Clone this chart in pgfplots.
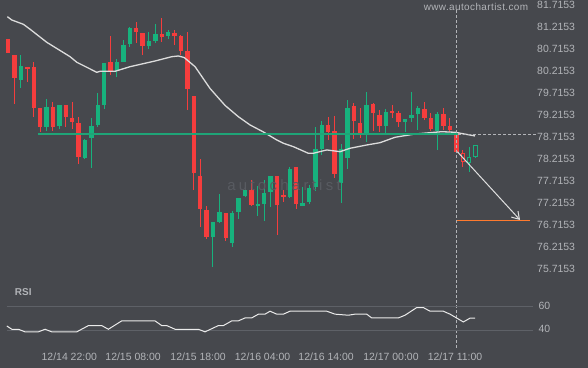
\documentclass[border=0pt]{standalone}
\usepackage{fontspec}
\setmainfont{Liberation Sans}
\newfontfamily\wmfont[LetterSpace=22]{Liberation Sans}
\newfontfamily\urlfont[LetterSpace=4]{Liberation Sans}
\usepackage{pgfplots}
\usepackage{pgfplotstable}
\pgfplotsset{compat=1.18}
\usetikzlibrary{arrows.meta}
\definecolor{bg}{HTML}{46484D}
\definecolor{lbl}{HTML}{B2B4B8}
\definecolor{gridc}{HTML}{5E6167}
\definecolor{cred}{HTML}{F53D3D}
\definecolor{cgreen}{HTML}{17B27D}
\definecolor{sup}{HTML}{1FA477}
\definecolor{maline}{HTML}{DCDCDC}
\definecolor{orng}{HTML}{FF7A2E}
\definecolor{wm}{HTML}{585B61}

\pgfplotstableread{
k hi lo top bot
0 80.981 80.663 80.981 80.663
1 80.618 79.504 80.618 80.102
3 80.345 80.004 80.345 80.299
4 80.458 79.209 80.345 79.413
5 79.413 78.868 79.413 78.981
7 79.549 78.890 79.436 78.981
9 79.481 78.981 79.481 79.209
10 79.549 78.936 79.186 79.095
11 79.209 78.140 79.072 78.299
16 81.049 80.163 80.458 80.254
20 81.368 80.890 81.231 81.140
21 81.118 80.618 81.118 80.822
24 81.459 80.913 81.095 81.027
26 81.186 80.845 81.118 81.049
27 81.072 80.618 81.049 80.709
28 81.140 79.368 80.709 79.845
29 79.686 77.549 79.686 77.936
30 78.254 76.709 77.868 77.118
31 77.186 76.436 77.095 76.481
34 77.027 76.390 77.027 76.459
38 77.777 77.186 77.549 77.209
42 77.868 76.527 77.868 77.209
43 77.549 77.277 77.436 77.413
45 78.072 77.118 78.072 77.231
50 79.209 78.686 79.027 78.868
51 79.231 77.822 78.890 77.913
54 79.527 78.709 79.459 79.118
55 79.413 78.731 79.072 78.845
57 79.527 78.890 79.504 79.299
58 79.368 78.868 79.254 79.004
60 79.481 79.186 79.345 79.299
61 79.345 78.981 79.299 79.095
65 79.549 79.140 79.390 79.186
66 79.299 78.890 79.186 78.936
68 79.413 78.913 79.277 79.004
69 79.186 78.868 79.004 78.913
70 78.868 78.413 78.868 78.413
}\redtab

\pgfplotstableread{
k hi lo top bot
2 80.618 79.868 80.368 80.049
6 79.618 78.890 79.436 78.981
8 79.481 78.936 79.481 79.004
12 78.709 78.254 78.686 78.277
13 79.186 78.049 79.004 78.731
14 79.754 78.981 79.481 79.027
15 80.436 79.390 80.436 79.481
17 80.527 80.118 80.458 80.254
18 80.959 80.458 80.845 80.458
19 81.254 80.799 81.231 80.868
22 81.140 80.754 80.936 80.822
23 81.322 80.890 81.095 80.936
25 81.186 80.981 81.140 81.049
32 76.822 75.799 76.822 76.481
33 77.459 76.799 77.049 76.822
35 77.072 76.254 77.027 76.345
36 77.368 76.890 77.368 77.049
37 77.618 77.390 77.549 77.413
39 77.640 76.959 77.231 77.186
40 77.777 76.845 77.481 77.231
41 77.868 77.163 77.868 77.504
44 78.072 77.368 78.027 77.390
46 77.618 77.186 77.254 77.186
47 77.663 77.231 77.595 77.277
48 78.981 77.527 78.481 77.618
49 79.118 78.345 79.027 78.481
52 78.595 77.254 78.481 77.709
53 79.595 78.027 79.413 78.277
56 79.777 78.640 79.481 78.845
59 79.390 78.845 79.322 79.004
62 79.163 78.868 79.163 79.095
63 79.777 79.095 79.254 79.186
64 79.459 78.913 79.413 79.277
67 79.322 78.459 79.277 78.890
}\greentab

\pgfplotstableread{
k hi lo top bot itop ibot
71 78.459 78.072 78.390 78.186 78.365 78.211
}\hredtab

\pgfplotstableread{
k hi lo top bot itop ibot
72 78.527 77.959 78.299 78.163 78.274 78.188
73 78.572 78.277 78.572 78.299 78.547 78.324
}\hgreentab

\pgfplotsset{
  wick/.style={draw=none, mark=none, error bars/.cd, y dir=both, y explicit, error mark=none,
    error bar style={line width=1bp, draw=#1, solid}},
  body/.style={draw=none, mark=none, error bars/.cd, y dir=both, y explicit, error mark=none,
    error bar style={line width=4.4bp, draw=#1, solid}},
  inbody/.style={draw=none, mark=none, error bars/.cd, y dir=both, y explicit, error mark=none,
    error bar style={line width=2.4bp, draw=#1, solid}},
}

\begin{document}
\begin{tikzpicture}
\fill[bg] (0bp,0bp) rectangle (588bp,368bp);

\begin{axis}[at={(0bp,83bp)}, anchor=south west, scale only axis,
  width=530bp, height=285bp,
  xmin=-1.249, xmax=81.51, ymin=75.3903, ymax=81.8676,
  axis line style={draw=none}, major tick length=0pt,
  xtick=\empty,
  ytick={75.7153,76.2153,76.7153,77.2153,77.7153,78.2153,78.7153,79.2153,79.7153,80.2153,80.7153,81.2153,81.7153},
  yticklabels={75.7153,76.2153,76.7153,77.2153,77.7153,78.2153,78.7153,79.2153,79.7153,80.2153,80.7153,81.2153,81.7153},
  yticklabel pos=right,
  yticklabel style={anchor=west, inner sep=0pt, xshift=7bp, yshift=1.3bp, font=\fontsize{10.5}{12}\selectfont, text=lbl},
  clip=false]

% wicks
\addplot[wick=cred] table[x=k, y expr={(\thisrow{hi}+\thisrow{lo})/2}, y error expr={(\thisrow{hi}-\thisrow{lo})/2}] {\redtab};
\addplot[wick=cgreen] table[x=k, y expr={(\thisrow{hi}+\thisrow{lo})/2}, y error expr={(\thisrow{hi}-\thisrow{lo})/2}] {\greentab};
\addplot[wick=cred] table[x=k, y expr={(\thisrow{hi}+\thisrow{lo})/2}, y error expr={(\thisrow{hi}-\thisrow{lo})/2}] {\hredtab};
\addplot[wick=cgreen] table[x=k, y expr={(\thisrow{hi}+\thisrow{lo})/2}, y error expr={(\thisrow{hi}-\thisrow{lo})/2}] {\hgreentab};
% bodies
\addplot[body=cred] table[x=k, y expr={(\thisrow{top}+\thisrow{bot})/2}, y error expr={(\thisrow{top}-\thisrow{bot})/2+0.006}] {\redtab};
\addplot[body=cgreen] table[x=k, y expr={(\thisrow{top}+\thisrow{bot})/2}, y error expr={(\thisrow{top}-\thisrow{bot})/2+0.006}] {\greentab};
\addplot[body=cred] table[x=k, y expr={(\thisrow{top}+\thisrow{bot})/2}, y error expr={(\thisrow{top}-\thisrow{bot})/2}] {\hredtab};
\addplot[body=cgreen] table[x=k, y expr={(\thisrow{top}+\thisrow{bot})/2}, y error expr={(\thisrow{top}-\thisrow{bot})/2}] {\hgreentab};
\addplot[inbody=bg] table[x=k, y expr={(\thisrow{itop}+\thisrow{ibot})/2}, y error expr={(\thisrow{itop}-\thisrow{ibot})/2}] {\hredtab};
\addplot[inbody=bg] table[x=k, y expr={(\thisrow{itop}+\thisrow{ibot})/2}, y error expr={(\thisrow{itop}-\thisrow{ibot})/2}] {\hgreentab};

% moving average
\addplot[maline, line width=1.3bp, mark=none] coordinates {
(-0.11,81.488) (0.58,81.413) (2.39,81.315) (3.44,81.202) (6.04,80.906) (9.68,80.579) (10.73,80.452) (13.85,80.224) (14.37,80.247) (16.71,80.247) (19.05,80.352) (22.95,80.481) (25.56,80.579) (26.59,80.595) (27.50,80.560) (29.20,80.352) (31.54,79.856) (33.89,79.470) (35.96,79.215) (37.79,79.027) (39.87,78.868) (41.96,78.686) (42.99,78.611) (44.55,78.534) (46.89,78.383) (47.67,78.383) (49.77,78.459) (51.84,78.420) (53.40,78.497) (56.01,78.572) (58.09,78.624) (60.43,78.747) (63.55,78.822) (67.72,78.874) (69.80,78.861) (72.92,78.777)};

% support line
\addplot[sup, line width=2.4bp, mark=none] coordinates {(4.68,78.815) (70.27,78.815)};
% dashed level
\addplot[lbl, line width=0.8bp, dash pattern=on 3bp off 2bp, mark=none] coordinates {(70.3,78.806) (82.45,78.806)};
% vertical dashed
\addplot[lbl, line width=0.8bp, dash pattern=on 3bp off 2bp, mark=none] coordinates {(70.06,81.64) (70.06,73.913)};
% target
\addplot[orng, line width=1.3bp, mark=none] coordinates {(70.06,76.861) (81.51,76.861)};
% arrow
\addplot[white!88!black, line width=1bp, mark=none, -{Straight Barb[length=7bp, width=9bp]}] coordinates {(70.16,78.420) (79.95,76.868)};
\end{axis}

\node[anchor=base, text=wm, inner sep=0pt, font=\wmfont\fontsize{15}{16}\selectfont] at (284bp,177.3bp) {autochartist};
\node[anchor=center, text=lbl, inner sep=0pt, font=\urlfont\fontsize{10}{12}\selectfont] at (476bp,361.3bp) {www.autochartist.com};
\node[anchor=west, text=lbl, inner sep=0pt, font=\bfseries\fontsize{10}{12}\selectfont] at (14.7bp,76.3bp) {RSI};

\begin{axis}[at={(6.7bp,23bp)}, anchor=south west, scale only axis,
  width=526.3bp, height=65bp,
  xmin=-0.2, xmax=81.98, ymin=27.5, ymax=82.6,
  axis line style={draw=none}, major tick length=0pt,
  ytick={40,60}, yticklabels={40,60},
  yticklabel pos=right,
  yticklabel style={anchor=west, inner sep=0pt, xshift=5.3bp, yshift=1bp, font=\fontsize{10.5}{12}\selectfont, text=lbl},
  ymajorgrids, grid style={gridc, line width=0.8bp},
  xtick={9.56,19.52,29.67,39.74,49.66,59.8,69.8},
  xticklabels={12/14 22:00,12/15 08:00,12/15 18:00,12/16 04:00,12/16 14:00,12/17 00:00,12/17 11:00},
  xticklabel style={anchor=center, inner sep=0pt, yshift=-11.7bp, font=\fontsize{10.5}{12}\selectfont, text=lbl},
  clip=false]
\addplot[white!92!black, line width=1bp, mark=none] coordinates {
(-0.2,43.6) (0.58,40.8) (1.61,40.8) (2.65,38.6) (4.73,38.6) (5.78,40.8) (6.82,38.6) (10.73,38.6) (12.54,43.9) (14.63,43.9) (15.66,40.8) (17.75,47.9) (22.95,47.9) (24.0,43.9) (24.78,43.9) (26.08,40.8) (29.72,40.8) (30.76,38.6) (32.84,43.9) (33.62,43.9) (34.93,47.9) (35.96,47.9) (37.01,50.4) (38.05,50.4) (39.09,53.6) (40.13,53.6) (40.91,56.1) (41.96,53.6) (42.99,53.6) (44.03,56.1) (49.77,56.1) (51.06,53.6) (53.14,52.7) (54.18,53.6) (56.01,53.6) (56.79,50.4) (60.95,50.4) (61.99,52.7) (63.82,59.2) (64.85,59.2) (65.90,56.1) (67.97,56.1) (69.02,53.6) (71.10,47.0) (72.14,50.2) (72.92,50.2)};
\end{axis}
\end{tikzpicture}
\end{document}
